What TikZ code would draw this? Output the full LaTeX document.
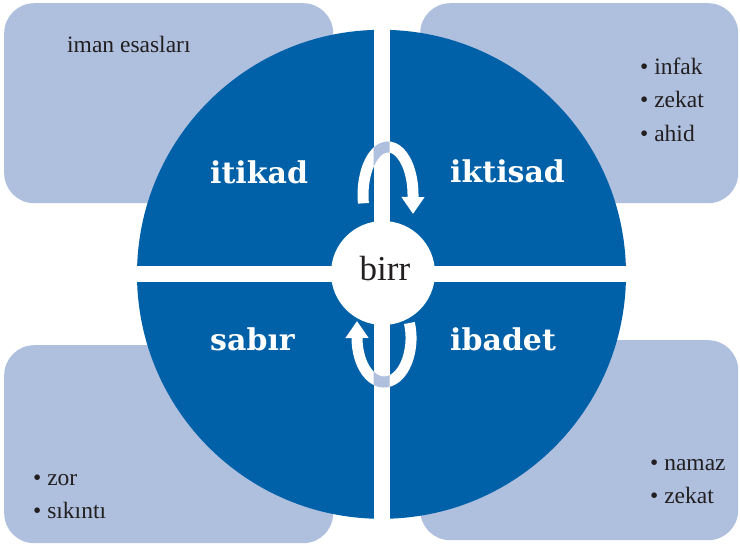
\documentclass[tikz,border=0pt]{standalone}
\usepackage{fontspec}
\setmainfont{Liberation Serif}
\newfontfamily\lblfont{DejaVu Serif}
\usetikzlibrary{arrows.meta}
\definecolor{darkblue}{HTML}{0061A8}
\definecolor{paleblue}{HTML}{AFBFDE}
\definecolor{txt}{HTML}{231F20}
\begin{document}
\begin{tikzpicture}[x=1pt,y=-1pt,
  box/.style={fill=paleblue, rounded corners=30pt, inner sep=0pt, anchor=north west},
  quad/.style={text=white, font=\lblfont\bfseries\fontsize{30}{31}\selectfont, anchor=base west, inner sep=0pt},
  item/.style={text=txt, font=\fontsize{23.5}{25}\selectfont, anchor=base west, inner sep=0pt},
  cyc/.style={line width=11pt, white, -{Triangle[width=22pt,length=17pt]}},
  cycover/.style={line width=11pt, paleblue}
]
\useasboundingbox (0,0) rectangle (740,544);
% side boxes
\node[box, minimum width=329pt, minimum height=200pt] (tl) at (4,3) {};
\node[box, minimum width=318pt, minimum height=200pt] (tr) at (420,3) {};
\node[box, minimum width=329pt, minimum height=198pt] (bl) at (4,345) {};
\node[box, minimum width=318pt, minimum height=200pt] (br) at (420,340) {};
% disc
\node[circle, fill=darkblue, minimum size=489pt, inner sep=0pt] (disc) at (381.5,274.3) {};
\fill[white] (373.5,20) rectangle (389.5,530);
\fill[white] (125,266.3) rectangle (640,282.3);
\node[circle, fill=white, minimum size=104pt, inner sep=0pt] (hub) at (383,273) {};
\node[text=txt, font=\fontsize{35}{36}\selectfont, anchor=base, inner sep=0pt] (birr) at (385,280) {birr};
% cycle arrows
\draw[cyc] (363.4,203.3) arc[start angle=170, end angle=360, x radius=25, y radius=48] -- (413,214);
\draw[cyc] (409.4,323) arc[start angle=-20, end angle=180, x radius=27, y radius=44] -- (357,321);
\begin{scope}
  \clip (373.5,0) rectangle (389.5,544);
  \draw[cycover] (363.4,203.3) arc[start angle=170, end angle=360, x radius=25, y radius=48];
  \draw[cycover] (409.4,323) arc[start angle=-20, end angle=180, x radius=27, y radius=44];
\end{scope}
% quadrant labels
\node[quad] (itikad) at (210,183) {itikad};
\node[quad] (iktisad) at (450,182) {iktisad};
\node[quad] (sabir) at (210,350) {sabır};
\node[quad] (ibadet) at (450,350) {ibadet};
% items
\node[item] (iman) at (67,52) {iman esasları};
\node[item] (infak) at (640,74) {• infak};
\node[item] (zekat1) at (640,107) {• zekat};
\node[item] (ahid) at (640,141) {• ahid};
\node[item] (zor) at (33,485) {• zor};
\node[item] (sikinti) at (33,518) {• sıkıntı};
\node[item] (namaz) at (650,470) {• namaz};
\node[item] (zekat2) at (650,503) {• zekat};
\end{tikzpicture}
\end{document}
